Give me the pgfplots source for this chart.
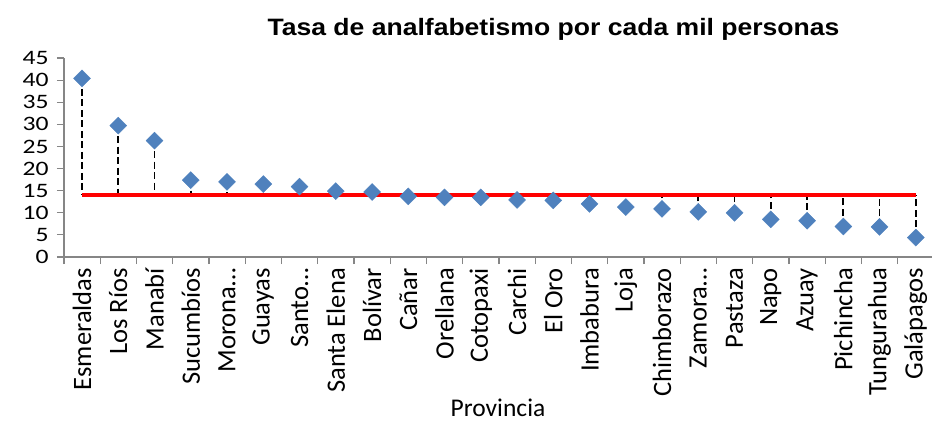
\documentclass[border=0pt]{standalone}
\usepackage{pgfplots}
\pgfplotsset{compat=1.18}
\usepackage{pgfplotstable}
\usepackage{fontspec}
\setmainfont{Carlito}
\newfontfamily\titlefont[FakeStretch=1.12]{Liberation Sans}
\newfontfamily\tickfont[FakeStretch=1.25]{Carlito}
\definecolor{markblue}{HTML}{4F81BD}
\definecolor{axisgray}{HTML}{868686}
\pgfplotstableread{
x y ep em
0 40.4 0 26.4
1 29.7 0 15.7
2 26.3 0 12.3
3 17.4 0 3.4
4 17.0 0 3.0
5 16.5 0 2.5
6 15.9 0 1.9
7 14.9 0 0.9
8 14.7 0 0.7
9 13.7 0.3 0
10 13.5 0.5 0
11 13.5 0.5 0
12 12.9 1.1 0
13 12.8 1.2 0
14 12.0 2.0 0
15 11.3 2.7 0
16 10.9 3.1 0
17 10.2 3.8 0
18 10.0 4.0 0
19 8.5 5.5 0
20 8.2 5.8 0
21 6.9 7.1 0
22 6.8 7.2 0
23 4.4 9.6 0
}\datatable
\begin{document}
\begin{tikzpicture}[x=1pt,y=1pt]
\useasboundingbox (0,0) rectangle (932,421);
\begin{axis}[
  at={(63.9pt,164pt)}, anchor=south west,
  scale only axis, width=870pt, height=199pt,
  xmin=-0.5, xmax=23.5, ymin=0, ymax=45,
  axis lines*=left,
  axis line style={axisgray, line width=1.2pt},
  tick align=outside,
  major tick length=7pt,
  tick style={axisgray, line width=1.2pt},
  xtick={-0.5,0.5,...,23.5},
  xticklabels={\mbox{}},
  extra x ticks={0,...,23},
  extra x tick labels={Esmeraldas,Los Ríos,Manabí,Sucumbíos,Morona…,Guayas,Santo…,Santa Elena,Bolívar,Cañar,Orellana,Cotopaxi,Carchi,El Oro,Imbabura,Loja,Chimborazo,Zamora…,Pastaza,Napo,Azuay,Pichincha,Tungurahua,Galápagos},
  extra x tick style={major tick length=0pt, tick style={draw=none},
     xticklabel style={rotate=90, anchor=east, inner sep=0pt, font=\fontsize{26.5}{28}\selectfont}},
  xticklabel shift=11pt,
  ytick={0,5,...,45},
  yticklabel style={font=\tickfont\fontsize{20.5}{22}\selectfont, inner sep=0pt},
  yticklabel shift=8pt,
  /pgf/number format/assume math mode=true,
  clip=false,
]
\addplot[draw=none, mark=none, forget plot,
  error bars/.cd, y dir=both, y explicit,
  error mark=none,
  error bar style={draw=black, line width=1.6pt, dash pattern=on 7pt off 3.5pt}]
  table[x=x, y=y, y error plus=ep, y error minus=em] {\datatable};
\addplot[red, line width=3.5pt, mark=none] coordinates {(0,14) (23,14)};
\addplot[only marks, mark=square*, mark size=6pt,
  mark options={fill=markblue, draw=markblue, rotate=45}]
  table[x=x, y=y] {\datatable};
\end{axis}
\node[anchor=base, inner sep=0pt, font=\titlefont\bfseries\fontsize{23.7}{26}\selectfont] at (553.5,385) {Tasa de analfabetismo por cada mil personas};
\node[anchor=base, inner sep=0pt, font=\fontsize{25.5}{28}\selectfont] at (498,5) {Provincia};
\end{tikzpicture}
\end{document}
